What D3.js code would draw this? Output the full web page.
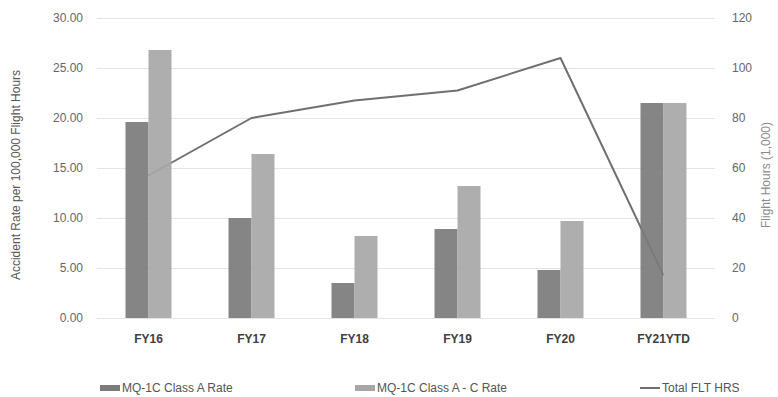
<!DOCTYPE html>
<html>
<head>
<meta charset="utf-8">
<script src="https://cdn.jsdelivr.net/npm/d3@7/dist/d3.min.js"></script>
<style>
  html, body { margin: 0; padding: 0; background: #fff; }
  svg { display: block; font-family: "Liberation Sans", Arial, sans-serif; }
</style>
</head>
<body>
<svg id="chart" width="778" height="397"></svg>
<script>
// Fiscal years shown on the category axis
const categories = ["FY16", "FY17", "FY18", "FY19", "FY20", "FY21YTD"];

// Accident rates per 100,000 flight hours (left axis)
const classARate = [19.6, 10.0, 3.5, 8.9, 4.8, 21.5];
const classACRate = [26.8, 16.4, 8.2, 13.2, 9.7, 21.5];

// Total flight hours in thousands (right axis)
const totalFltHrs = [57, 80, 87, 91, 104, 17];

// Tick values for both vertical axes
const leftTicks = [0, 5, 10, 15, 20, 25, 30];
const rightTicks = [0, 20, 40, 60, 80, 100, 120];

const seriesNames = ["MQ-1C Class A Rate", "MQ-1C Class A - C Rate", "Total FLT HRS"];
const barColors = ["#7b7b7b", "#a7a7a7"];
const lineColor = "#6f6f6f";

const svg = d3.select("#chart");
const plot = { left: 97, right: 715, top: 18, bottom: 318 };

const x = d3.scaleBand().domain(categories).range([plot.left, plot.right]).padding(0);
const bw = x.bandwidth();
const xSub = d3.scaleBand().domain([0, 1]).range([bw / 2 - 23, bw / 2 + 23]).padding(0);
const yL = d3.scaleLinear().domain([0, 30]).range([plot.bottom, plot.top]);
const yR = d3.scaleLinear().domain([0, 120]).range([plot.bottom, plot.top]);

// Horizontal gridlines
svg.append("g").selectAll("line").data(leftTicks).join("line")
  .attr("x1", plot.left).attr("x2", plot.right)
  .attr("y1", d => yL(d) + 0.5).attr("y2", d => yL(d) + 0.5)
  .attr("stroke", "#e4e4e4").attr("stroke-width", 1);

// Left axis labels
const leftAxis = d3.axisLeft(yL).tickValues(leftTicks).tickFormat(d3.format(".2f")).tickSize(0).tickPadding(0);
svg.append("g").attr("transform", `translate(${plot.left - 14},0)`).call(leftAxis)
  .call(g => g.select(".domain").remove())
  .call(g => g.selectAll("text").attr("fill", "#666").attr("font-size", 12).style("font-family", "Liberation Sans, Arial, sans-serif"));

// Right axis labels
const rightAxis = d3.axisRight(yR).tickValues(rightTicks).tickFormat(d3.format("d")).tickSize(0).tickPadding(0);
svg.append("g").attr("transform", `translate(${plot.right + 17},0)`).call(rightAxis)
  .call(g => g.select(".domain").remove())
  .call(g => g.selectAll("text").attr("fill", "#666").attr("font-size", 12).style("font-family", "Liberation Sans, Arial, sans-serif"));

// Category labels
const bottomAxis = d3.axisBottom(x).tickSize(0).tickPadding(0);
svg.append("g").attr("transform", `translate(0,${plot.bottom + 16})`).call(bottomAxis)
  .call(g => g.select(".domain").remove())
  .call(g => g.selectAll("text").attr("fill", "#404040").attr("font-size", 12).attr("font-weight", "bold")
    .style("font-family", "Liberation Sans, Arial, sans-serif"));

// Flight-hours line, drawn beneath the bars
const line = d3.line().x((d, i) => x(categories[i]) + bw / 2).y(d => yR(d));
svg.append("path").datum(totalFltHrs)
  .attr("d", line).attr("fill", "none")
  .attr("stroke", lineColor).attr("stroke-width", 2).attr("stroke-linejoin", "round");

// Clustered bars
const barSeries = [classARate, classACRate];
barSeries.forEach((vals, s) => {
  svg.append("g").selectAll("rect").data(vals).join("rect")
    .attr("x", (d, i) => x(categories[i]) + xSub(s))
    .attr("width", xSub.bandwidth())
    .attr("y", d => yL(d))
    .attr("height", d => yL(0) - yL(d))
    .attr("fill", barColors[s])
    .attr("fill-opacity", 0.92);
});

// Axis titles
svg.append("text")
  .attr("transform", `translate(20,175) rotate(-90)`)
  .attr("text-anchor", "middle").attr("font-size", 12).attr("fill", "#555")
  .text("Accident Rate per 100,000 Flight Hours");
svg.append("text")
  .attr("transform", `translate(770,175) rotate(-90)`)
  .attr("text-anchor", "middle").attr("font-size", 12).attr("fill", "#8a8a8a")
  .text("Flight Hours (1,000)");

// Legend
const legendY = 388;
const legendX = [100, 355, 640];
const legend = svg.append("g");
seriesNames.forEach((name, i) => {
  const g = legend.append("g").attr("transform", `translate(${legendX[i]},${legendY})`);
  if (i < 2) {
    g.append("rect").attr("x", 0).attr("y", -3).attr("width", 20).attr("height", 6).attr("fill", barColors[i]);
  } else {
    g.append("line").attr("x1", 0).attr("x2", 20).attr("y1", 0).attr("y2", 0)
      .attr("stroke", lineColor).attr("stroke-width", 2);
  }
  g.append("text").attr("x", 22).attr("y", 4).attr("font-size", 12).attr("fill", "#555").text(name);
});
</script>
</body>
</html>
